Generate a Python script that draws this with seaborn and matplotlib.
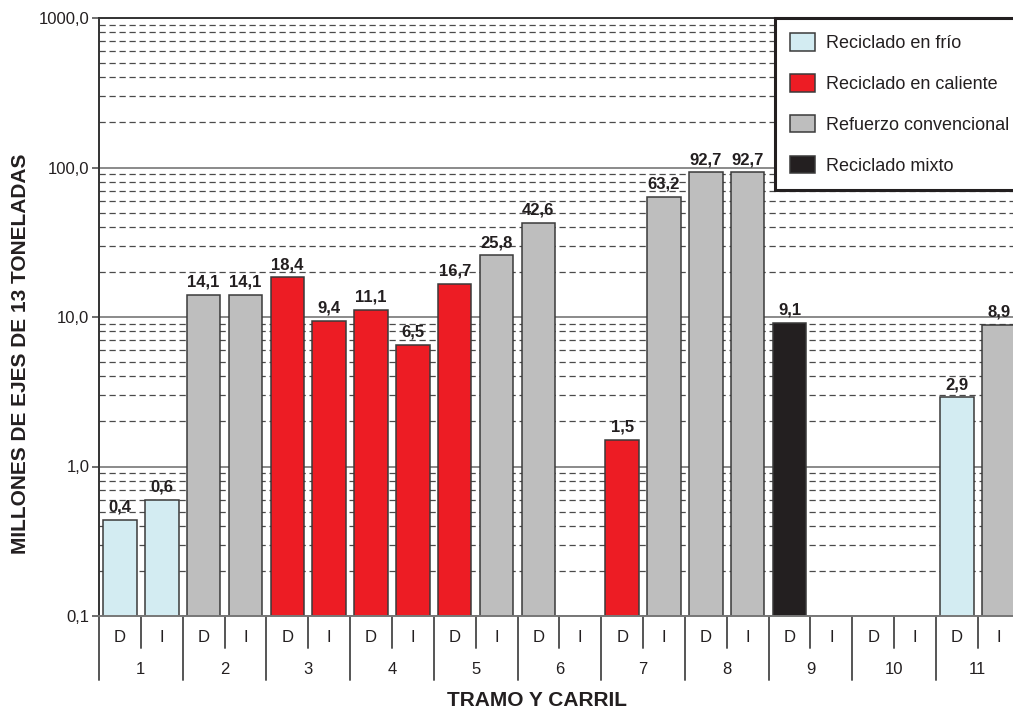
import numpy as np
import pandas as pd
import matplotlib
matplotlib.use("Agg")
import matplotlib.pyplot as plt
from matplotlib.patches import Patch
from matplotlib.ticker import FixedLocator, FixedFormatter, LogLocator, NullFormatter
from matplotlib.transforms import blended_transform_factory
import seaborn as sns

# ---- data -------------------------------------------------------------
tramos = [str(i) for i in range(1, 12)]
carriles = ["D", "I"]

valores = [0.44, 0.6,      # 1
           14.1, 14.1,     # 2
           18.4, 9.4,      # 3
           11.1, 6.5,      # 4
           16.7, 25.8,     # 5
           42.6, np.nan,   # 6
           1.5, 63.2,      # 7
           92.7, 92.7,     # 8
           9.1, np.nan,    # 9
           np.nan, np.nan, # 10
           2.9, 8.9]       # 11

tipos = ["Reciclado en frío", "Reciclado en frío",
         "Refuerzo convencional", "Refuerzo convencional",
         "Reciclado en caliente", "Reciclado en caliente",
         "Reciclado en caliente", "Reciclado en caliente",
         "Reciclado en caliente", "Refuerzo convencional",
         "Refuerzo convencional", None,
         "Reciclado en caliente", "Refuerzo convencional",
         "Refuerzo convencional", "Refuerzo convencional",
         "Reciclado mixto", None,
         None, None,
         "Reciclado en frío", "Refuerzo convencional"]

categorias = ["Reciclado en frío", "Reciclado en caliente",
              "Refuerzo convencional", "Reciclado mixto"]
colores = ["#D3ECF2", "#ED1C24", "#BEBEBE", "#231F20"]

y_ticks = [0.1, 1, 10, 100, 1000]
y_ticklabels = ["0,1", "1,0", "10,0", "100,0", "1000,0"]

# ---- frame ------------------------------------------------------------
sns.set_style("white")
plt.rcParams["font.family"] = ["Liberation Sans", "DejaVu Sans"]
TXT = "#231F20"

W, H = 1013, 713
fig = plt.figure(figsize=(W / 100, H / 100), dpi=100)
slot_px = 41.85
ax_left, ax_top, ax_bottom = 99, 18, 616
ax = fig.add_axes([ax_left / W, 1 - ax_bottom / H,
                   22 * slot_px / W, (ax_bottom - ax_top) / H])

slots = [f"{t}{c}" for t in tramos for c in carriles]
df = pd.DataFrame({"slot": slots, "valor": valores, "tipo": tipos})

ax.set_yscale("log")
sns.barplot(data=df, x="slot", y="valor", hue="tipo", order=slots,
            hue_order=categorias, palette=dict(zip(categorias, colores)),
            saturation=1, dodge=False, width=0.8, edgecolor="#3a3a3a",
            linewidth=1.1, legend=False, ax=ax)

ax.set_xlim(-0.5, len(slots) - 0.5)
ax.set_ylim(0.1, 1000)
ax.set_xlabel("")
ax.set_ylabel("")

# y axis: decade ticks, dashed intermediate lines
ax.yaxis.set_major_locator(FixedLocator(y_ticks))
ax.yaxis.set_major_formatter(FixedFormatter(y_ticklabels))
ax.yaxis.set_minor_locator(LogLocator(base=10, subs=np.arange(2, 10)))
ax.yaxis.set_minor_formatter(NullFormatter())
ax.tick_params(axis="y", which="major", left=True, length=5, width=1.2,
               color="#555555", labelsize=12, labelcolor=TXT, pad=2)
ax.tick_params(axis="y", which="minor", left=False, length=0)
ax.tick_params(axis="x", bottom=False, labelbottom=False)
ax.set_axisbelow(True)
ax.grid(which="major", axis="y", color="#8a8a8a", lw=1.4, ls="-")
ax.grid(which="minor", axis="y", color="#4a4a4a", lw=0.9, ls=(0, (5, 3)))
ax.grid(which="major", axis="x", visible=False)

for side in ["left", "top"]:
    ax.spines[side].set_color("#333333")
    ax.spines[side].set_linewidth(1.4)
ax.spines["bottom"].set_color("#777777")
ax.spines["bottom"].set_linewidth(1.4)
ax.spines["right"].set_visible(False)

# value labels above bars
for i, v in enumerate(valores):
    if np.isfinite(v):
        ax.annotate(f"{v:.1f}".replace(".", ","), xy=(i, v), xytext=(0, 6),
                    textcoords="offset points", ha="center", va="baseline",
                    fontsize=12, fontweight="bold", color=TXT)

# two-level category table under the axis
tr = blended_transform_factory(ax.transData, ax.transAxes)
ax_h = ax_bottom - ax_top
y_short = -(648 - ax_bottom) / ax_h
y_long = -(680 - ax_bottom) / ax_h
for k in range(len(slots) + 1):
    y_end = y_long if k % 2 == 0 else y_short
    ax.plot([k - 0.5, k - 0.5], [0, y_end], transform=tr, clip_on=False,
            color="#555555", lw=1.4)
for i, s in enumerate(slots):
    ax.text(i, -(638 - ax_bottom) / ax_h, carriles[i % 2], transform=tr,
            ha="center", va="center", fontsize=12, color=TXT)
for j, t in enumerate(tramos):
    ax.text(2 * j + 0.5, -(669 - ax_bottom) / ax_h, t, transform=tr,
            ha="center", va="center", fontsize=12, color=TXT)

# axis titles
fig.text(21 / W, 1 - 354 / H, "MILLONES DE EJES DE 13 TONELADAS",
         rotation=90, ha="center", va="center", fontsize=15,
         fontweight="bold", color=TXT)
fig.text(537 / W, 1 - 700 / H, "TRAMO Y CARRIL", ha="center", va="center",
         fontsize=15, fontweight="bold", color=TXT)

# legend
handles = [Patch(facecolor=c, edgecolor="#3a3a3a", lw=1.1) for c in colores]
leg = fig.legend(handles, categorias, loc="upper left",
                 bbox_to_anchor=(775 / W, 1 - 18 / H),
                 bbox_transform=fig.transFigure, fontsize=13,
                 frameon=True, fancybox=False, borderpad=0.85,
                 handlelength=1.35, handleheight=1.1, handletextpad=0.65,
                 labelspacing=1.22, borderaxespad=0)
leg.get_frame().set_edgecolor(TXT)
leg.get_frame().set_linewidth(2.2)
leg.get_frame().set_facecolor("white")
leg.get_frame().set_alpha(1)
for t in leg.get_texts():
    t.set_color(TXT)

fig.savefig("out.png", dpi=100)
